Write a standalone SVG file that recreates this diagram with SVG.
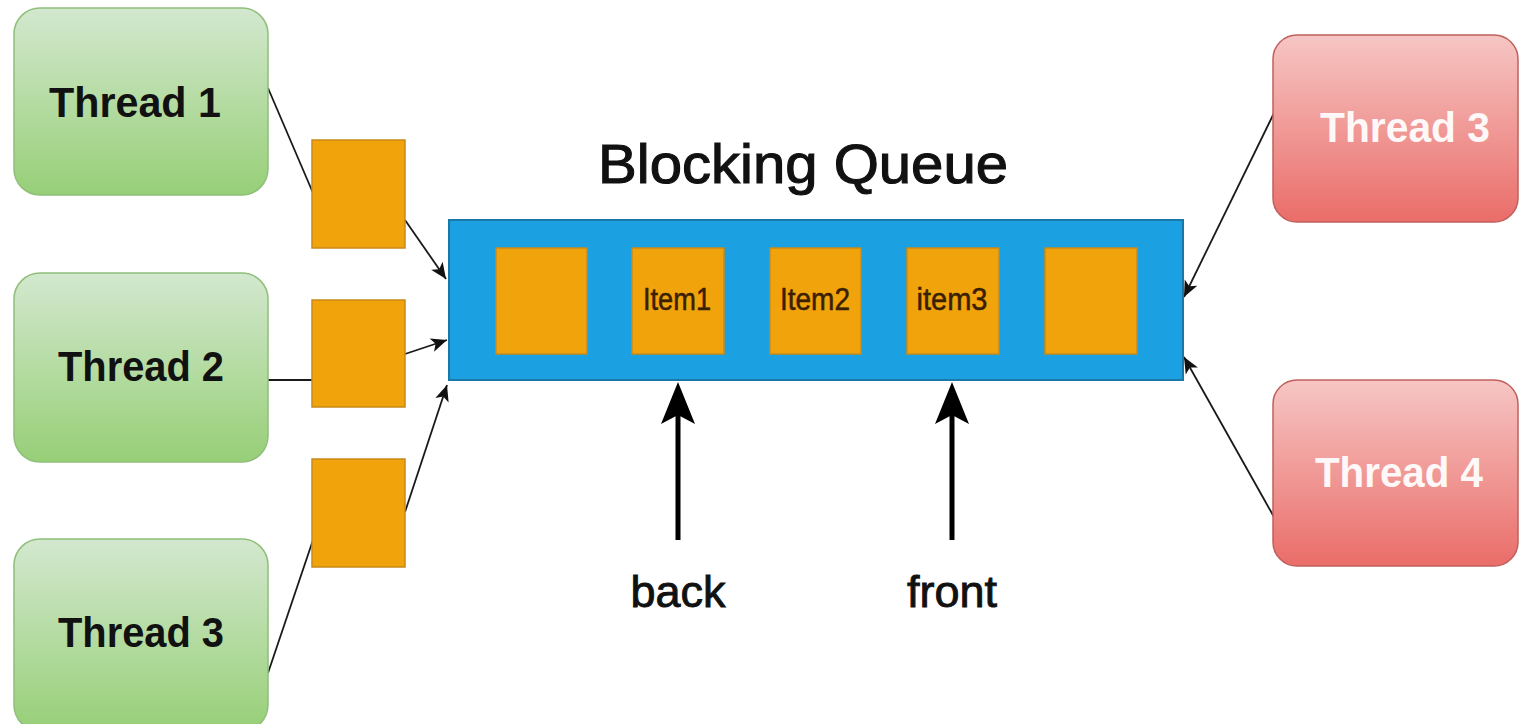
<svg xmlns="http://www.w3.org/2000/svg" width="1520" height="724" viewBox="0 0 1520 724">
<style>
.bg{fill:#ffffff}
.green{fill:url(#gGreen);stroke:#8fbf7a;stroke-width:1.5}
.red{fill:url(#gRed);stroke:#c0605c;stroke-width:1.5}
.orange{fill:#f0a30a;stroke:#c98a1a;stroke-width:1.5}
.blue{fill:#1ba1e2;stroke:#1a78a8;stroke-width:2}
.tl{font-family:"Liberation Sans",Arial,sans-serif;font-weight:bold;font-size:42px;text-anchor:middle}
.dark{fill:#111111}
.light{fill:#fff8f8}
.title{font-family:"Liberation Sans",Arial,sans-serif;font-size:55px;fill:#111111;stroke:#111111;stroke-width:1.1;text-anchor:middle}
.item{font-family:"Liberation Sans",Arial,sans-serif;font-size:31px;fill:#3a2000;stroke:#3a2000;stroke-width:0.5;text-anchor:middle}
.lbl{font-family:"Liberation Sans",Arial,sans-serif;font-size:45px;fill:#111111;stroke:#111111;stroke-width:0.9;text-anchor:middle}
.thin{stroke:#1a1a1a;stroke-width:1.8;fill:none}
.thick{stroke:#000000;stroke-width:5;fill:none}
</style>
<defs>
<linearGradient id="gGreen" x1="0" y1="0" x2="0" y2="1">
<stop offset="0" stop-color="#d3e8cf"/>
<stop offset="1" stop-color="#97cf77"/>
</linearGradient>
<linearGradient id="gRed" x1="0" y1="0" x2="0" y2="1">
<stop offset="0" stop-color="#f6c6c4"/>
<stop offset="1" stop-color="#ea6d69"/>
</linearGradient>
<marker id="arr" viewBox="-17 -7.5 17 15" refX="0" refY="0" markerWidth="17" markerHeight="15" orient="auto" markerUnits="userSpaceOnUse">
<path d="M0,0 L-16,-7 L-12,0 L-16,7 Z" fill="#111111"/>
</marker>
<marker id="bigArr" viewBox="-42 -17 42 34" refX="-33" refY="0" markerWidth="42" markerHeight="34" orient="auto" markerUnits="userSpaceOnUse">
<path d="M0,0 L-42,-17 L-33,0 L-42,17 Z" fill="#000000"/>
</marker>
</defs>
<rect class="bg" x="0" y="0" width="1520" height="724"/>

<g id="connectors">
<line class="thin" x1="268" y1="88" x2="313" y2="193"/>
<line class="thin" x1="405" y1="220" x2="446" y2="279" marker-end="url(#arr)"/>
<line class="thin" x1="268" y1="380" x2="312" y2="380"/>
<line class="thin" x1="405" y1="354" x2="447" y2="340" marker-end="url(#arr)"/>
<line class="thin" x1="268" y1="673" x2="313" y2="540"/>
<line class="thin" x1="405" y1="512" x2="447" y2="385" marker-end="url(#arr)"/>
<line class="thin" x1="1274" y1="113" x2="1184" y2="297" marker-end="url(#arr)"/>
<line class="thin" x1="1274" y1="517" x2="1184" y2="357" marker-end="url(#arr)"/>
<line class="thick" x1="678" y1="540" x2="678" y2="415" marker-end="url(#bigArr)"/>
<line class="thick" x1="952" y1="540" x2="952" y2="415" marker-end="url(#bigArr)"/>
</g>

<g id="thread1">
<rect class="green" x="14" y="8" width="254" height="187" rx="26"/>
<text class="tl dark" x="135" y="117" textLength="172" lengthAdjust="spacingAndGlyphs">Thread 1</text>
</g>
<g id="thread2">
<rect class="green" x="14" y="273" width="254" height="189" rx="26"/>
<text class="tl dark" x="141" y="381" textLength="166" lengthAdjust="spacingAndGlyphs">Thread 2</text>
</g>
<g id="thread3">
<rect class="green" x="14" y="539" width="254" height="192" rx="26"/>
<text class="tl dark" x="141" y="647" textLength="166" lengthAdjust="spacingAndGlyphs">Thread 3</text>
</g>

<g id="msg1"><rect class="orange" x="312" y="140" width="93" height="108"/></g>
<g id="msg2"><rect class="orange" x="312" y="300" width="93" height="107"/></g>
<g id="msg3"><rect class="orange" x="312" y="459" width="93" height="108"/></g>

<g id="title">
<text class="title" x="803" y="183" textLength="410" lengthAdjust="spacingAndGlyphs">Blocking Queue</text>
</g>

<g id="queue">
<rect class="blue" x="449" y="220" width="734" height="160"/>
</g>
<g id="slot1"><rect class="orange" x="496" y="248" width="91" height="106"/></g>
<g id="slot2"><rect class="orange" x="632" y="248" width="92" height="106"/>
<text class="item" x="677" y="310" textLength="68" lengthAdjust="spacingAndGlyphs">Item1</text></g>
<g id="slot3"><rect class="orange" x="770" y="248" width="91" height="106"/>
<text class="item" x="815" y="310" textLength="70" lengthAdjust="spacingAndGlyphs">Item2</text></g>
<g id="slot4"><rect class="orange" x="907" y="248" width="92" height="106"/>
<text class="item" x="952" y="310" textLength="71" lengthAdjust="spacingAndGlyphs">item3</text></g>
<g id="slot5"><rect class="orange" x="1045" y="248" width="92" height="106"/></g>

<g id="thread3r">
<rect class="red" x="1273" y="35" width="245" height="187" rx="24"/>
<text class="tl light" x="1405" y="142" textLength="170" lengthAdjust="spacingAndGlyphs">Thread 3</text>
</g>
<g id="thread4r">
<rect class="red" x="1273" y="380" width="245" height="186" rx="24"/>
<text class="tl light" x="1399" y="487" textLength="168" lengthAdjust="spacingAndGlyphs">Thread 4</text>
</g>

<g id="labels">
<text class="lbl" x="678" y="607">back</text>
<text class="lbl" x="952" y="607">front</text>
</g>
</svg>
